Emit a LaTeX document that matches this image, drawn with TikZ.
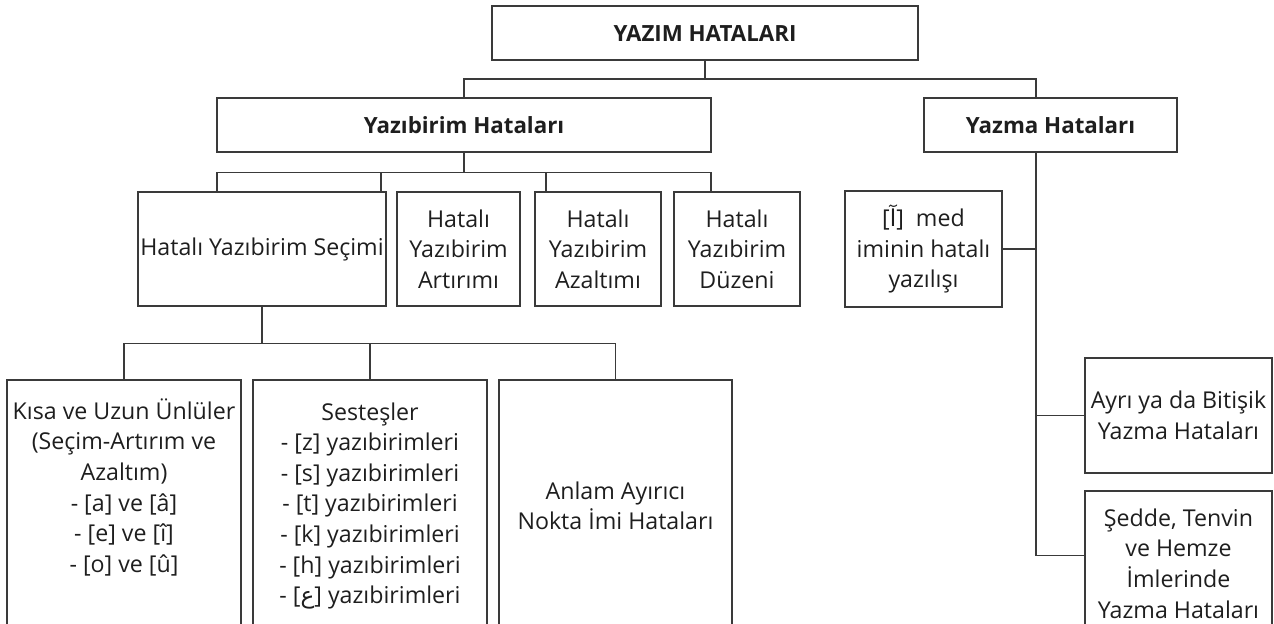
\documentclass[tikz,border=0pt]{standalone}
\usepackage{fontspec}
\setmainfont{Open Sans}
\newfontfamily\arabicfont[Script=Arabic]{DejaVu Sans}
\usetikzlibrary{positioning}
\definecolor{linegray}{HTML}{3A3A3A}
\definecolor{textblack}{HTML}{1E1E1E}

\begin{document}
\begin{tikzpicture}[x=0.02cm, y=-0.02cm,
    box/.style={draw=linegray, line width=0.8pt, inner sep=0pt, align=center,
      text=textblack, font=\fontsize{13.2}{17.4}\selectfont},
    headbox/.style={box, font=\fontsize{12.7}{17.4}\selectfont\bfseries},
    link/.style={draw=linegray, line width=0.8pt}]
  \useasboundingbox (0,0) rectangle (1274,623);

  % upper levels
  \node[headbox, minimum width=8.52cm, minimum height=1.08cm] (yazim) at (705,33) {YAZIM HATALARI};
  \node[headbox, minimum width=9.88cm, minimum height=1.08cm] (yazibirim) at (464,125) {Yazıbirim Hataları};
  \node[headbox, minimum width=5.06cm, minimum height=1.08cm] (yazma) at (1050.5,125) {Yazma Hataları};

  % yazibirim branches
  \node[box, minimum width=4.96cm, minimum height=2.28cm] (secim) at (262,249) {Hatalı Yazıbirim Seçimi};
  \node[box, minimum width=2.46cm, minimum height=2.28cm] (artirim) at (458.5,249) {Hatalı\\Yazıbirim\\Artırımı};
  \node[box, minimum width=2.52cm, minimum height=2.28cm] (azaltim) at (598,249) {Hatalı\\Yazıbirim\\Azaltımı};
  \node[box, minimum width=2.52cm, minimum height=2.28cm] (duzen) at (737,249) {Hatalı\\Yazıbirim\\Düzeni};

  % yazma branches
  \node[box, minimum width=3.14cm, minimum height=2.32cm] (med) at (923.5,249) {[{\arabicfont آ}]\ \ med\\iminin hatalı\\yazılışı};
  \node[box, minimum width=3.74cm, minimum height=2.30cm] (ayri) at (1178.5,415.5) {Ayrı ya da Bitişik\\Yazma Hataları};
  \node[box, minimum width=3.74cm, minimum height=2.90cm] (sedde) at (1178.5,563.5) {Şedde, Tenvin\\ve Hemze\\İmlerinde\\Yazma Hataları};
  \coordinate (seddein) at ([yshift=0.16cm]sedde.west);

  % secim branches
  \node[box, minimum width=4.68cm, minimum height=5.04cm] (kisa) at (124,506) {Kısa ve Uzun Ünlüler\\(Seçim-Artırım ve\\Azaltım)\\- [a] ve [â]\\- [e] ve [î]\\- [o] ve [û]\\[6pt]\mbox{}};
  \node[box, minimum width=4.68cm, minimum height=5.04cm] (sestes) at (370,506) {Sesteşler\\- [z] yazıbirimleri\\- [s] yazıbirimleri\\- [t] yazıbirimleri\\- [k] yazıbirimleri\\- [h] yazıbirimleri\\- [{\arabicfont ع}] yazıbirimleri};
  \node[box, minimum width=4.66cm, minimum height=5.04cm] (anlam) at (615.5,506) {Anlam Ayırıcı\\Nokta İmi Hataları};

  % connectors
  \coordinate (trunk) at (1036,79);
  \draw[link] (yazim.south) -- (yazim.south |- trunk);
  \draw[link] (yazibirim.north) |- (trunk) -- (trunk |- yazma.north);
  \draw[link] (trunk |- yazma.south) -- (trunk |- seddein);
  \draw[link] (med.east) -- (trunk |- med.east);
  \draw[link] (ayri.west) -- (trunk |- ayri.west);
  \draw[link] (seddein) -- (trunk |- seddein);

  \draw[link] (yazibirim.south) -- ++(0,20) coordinate (midbar);
  \draw[link] (yazibirim.south west |- midbar) -- (yazibirim.south east |- midbar);
  \foreach \dx in {217,381,546,711}
    \draw[link] (\dx,0 |- midbar) -- (\dx,0 |- secim.north);

  \draw[link] (secim.south) -- ++(0,37) coordinate (lowbar);
  \draw[link] (kisa.north) |- (anlam.north |- lowbar) -- (anlam.north);
  \draw[link] (sestes.north |- lowbar) -- (sestes.north);
\end{tikzpicture}
\end{document}
